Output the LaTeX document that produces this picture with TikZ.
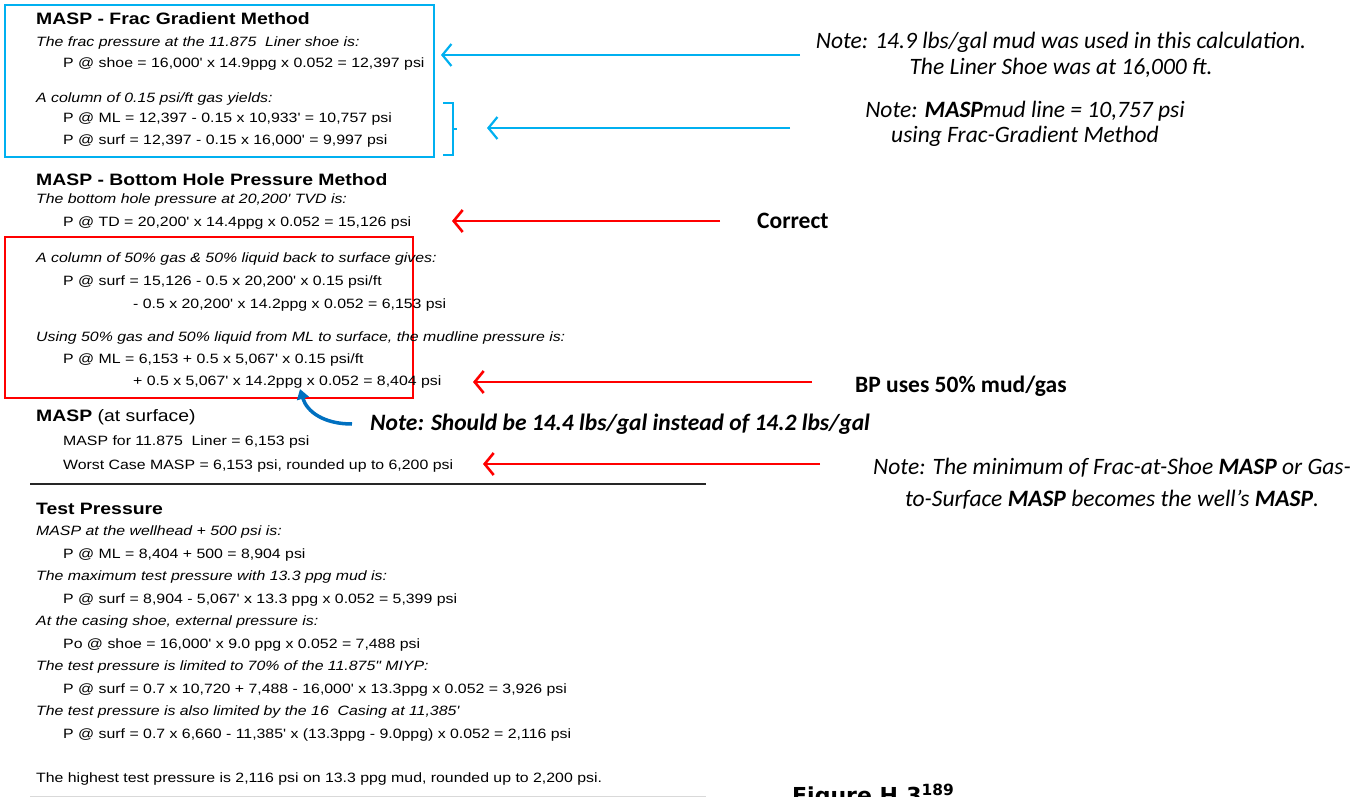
\documentclass[tikz,border=0pt]{standalone}
\usepackage{fontspec}
\usetikzlibrary{arrows.meta}
\setmainfont{Liberation Sans}
\newfontfamily\scan[FakeStretch=1.175]{Liberation Sans}
\newfontfamily\notef{Carlito}
\newfontfamily\figf{DejaVu Sans}
\definecolor{cyanb}{RGB}{0,176,240}
\definecolor{darkb}{RGB}{0,112,192}
\definecolor{redc}{RGB}{255,0,0}
\tikzset{
  hd/.style={anchor=base west, inner sep=0pt, font=\scan\bfseries\fontsize{16.5}{18}\selectfont},
  itl/.style={anchor=base west, inner sep=0pt, font=\scan\itshape\fontsize{13.5}{15}\selectfont},
  ln/.style={anchor=base west, inner sep=0pt, font=\scan\fontsize{13.5}{15}\selectfont},
  note/.style={inner sep=0pt, align=center, font=\notef\itshape\fontsize{23.5}{25.5}\selectfont},
  lab/.style={inner sep=0pt, anchor=west, font=\notef\bfseries\fontsize{23.5}{26}\selectfont},
  barrow/.style={cyanb, line width=2.2pt, -{Straight Barb[length=9pt,width=22pt]}},
  rarrow/.style={redc, line width=2.6pt, -{Straight Barb[length=9pt,width=22pt]}},
  frame/.style={line width=2.2pt}
}
\begin{document}
\begin{tikzpicture}[x=1pt,y=-1pt]
\useasboundingbox (0,0) rectangle (1370,797);
% ---- Frac gradient block
\draw[frame, cyanb] (5,5) rectangle (434,157);
\node[hd] (h1) at (36,25) {MASP - Frac Gradient Method};
\node[itl] (t1) at (36,47) {The frac pressure at the 11.875\ \ Liner shoe is:};
\node[ln] (l1) at (63,68) {P @ shoe = 16,000' x 14.9ppg x 0.052 = 12,397 psi};
\node[itl] (t2) at (36,103) {A column of 0.15 psi/ft gas yields:};
\node[ln] (l2) at (63,123) {P @ ML = 12,397 - 0.15 x 10,933' = 10,757 psi};
\node[ln] (l3) at (63,145) {P @ surf = 12,397 - 0.15 x 16,000' = 9,997 psi};
\draw[cyanb, line width=2pt] (443,103) -- (453,103) -- (453,155) -- (443,155);
\draw[cyanb, line width=2pt] (453,129) -- (457,129);
% ---- Bottom hole block
\node[hd] (h2) at (36,185) {MASP - Bottom Hole Pressure Method};
\node[itl] (t3) at (36,203) {The bottom hole pressure at 20,200' TVD is:};
\node[ln] (l4) at (63,226) {P @ TD = 20,200' x 14.4ppg x 0.052 = 15,126 psi};
\draw[frame, redc] (5,237) rectangle (413,398);
\node[itl] (t4) at (36,262) {A column of 50\% gas \& 50\% liquid back to surface gives:};
\node[ln] (l5) at (63,285) {P @ surf = 15,126 - 0.5 x 20,200' x 0.15 psi/ft};
\node[ln] (l6) at (133,308) {- 0.5 x 20,200' x 14.2ppg x 0.052 = 6,153 psi};
\node[itl] (t5) at (36,341) {Using 50\% gas and 50\% liquid from ML to surface, the mudline pressure is:};
\node[ln] (l7) at (63,363) {P @ ML = 6,153 + 0.5 x 5,067' x 0.15 psi/ft};
\node[ln] (l8) at (133,385) {+ 0.5 x 5,067' x 14.2ppg x 0.052 = 8,404 psi};
% ---- MASP at surface
\node[hd] (h3) at (36,421) {MASP {\mdseries(at surface)}};
\node[ln] (l9) at (63,445) {MASP for 11.875\ \ Liner = 6,153 psi};
\node[ln] (l10) at (63,469) {Worst Case MASP = 6,153 psi, rounded up to 6,200 psi};
\draw[line width=2.6pt, black!85] (30,484) -- (706,484);
% ---- Test pressure
\node[hd] (h4) at (36,514) {Test Pressure};
\node[itl] (t6) at (36,535) {MASP at the wellhead + 500 psi is:};
\node[ln] (l11) at (63,558) {P @ ML = 8,404 + 500 = 8,904 psi};
\node[itl] (t7) at (36,580) {The maximum test pressure with 13.3 ppg mud is:};
\node[ln] (l12) at (63,603) {P @ surf = 8,904 - 5,067' x 13.3 ppg x 0.052 = 5,399 psi};
\node[itl] (t8) at (36,625) {At the casing shoe, external pressure is:};
\node[ln] (l13) at (63,648) {Po @ shoe = 16,000' x 9.0 ppg x 0.052 = 7,488 psi};
\node[itl] (t9) at (36,670) {The test pressure is limited to 70\% of the 11.875" MIYP:};
\node[ln] (l14) at (63,693) {P @ surf = 0.7 x 10,720 + 7,488 - 16,000' x 13.3ppg x 0.052 = 3,926 psi};
\node[itl] (t10) at (36,715) {The test pressure is also limited by the 16\ \ Casing at 11,385'};
\node[ln] (l15) at (63,738) {P @ surf = 0.7 x 6,660 - 11,385' x (13.3ppg - 9.0ppg) x 0.052 = 2,116 psi};
\node[ln] (l16) at (36,782) {The highest test pressure is 2,116 psi on 13.3 ppg mud, rounded up to 2,200 psi.};
\draw[line width=1pt, black!15] (30,796) -- (706,796);
\node[anchor=base west, inner sep=0pt, font=\figf\bfseries\fontsize{22}{26}\selectfont] (fig) at (792,803) {Figure H.3\textsuperscript{189}};
% ---- Notes and arrows
\node[note] (n1) at (1061,55) {Note: 14.9 lbs/gal mud was used in this calculation.\\The Liner Shoe was at 16,000 ft.};
\node[note] (n2) at (1025,124) {Note: \textbf{MASP}mud line = 10,757 psi\\using Frac-Gradient Method};
\node[lab] (c1) at (757,221) {Correct};
\node[lab] (c2) at (855,386) {BP uses 50\% mud/gas};
\node[inner sep=0pt, anchor=west, font=\notef\bfseries\itshape\fontsize{23.5}{26}\selectfont] (n4) at (370,424) {Note: Should be 14.4 lbs/gal instead of 14.2 lbs/gal};
\node[note, font=\notef\itshape\fontsize{23.5}{32}\selectfont] (n3) at (1112,484) {Note: The minimum of Frac-at-Shoe \textbf{MASP} or Gas-\\to-Surface \textbf{MASP} becomes the well’s \textbf{MASP}.};
\coordinate (a1s) at (800,55);  \coordinate (a1e) at (441,55);
\coordinate (a2s) at (790,128); \coordinate (a2e) at (487,128);
\coordinate (a3s) at (720,221); \coordinate (a3e) at (452,221);
\coordinate (a4s) at (812,382); \coordinate (a4e) at (473,382);
\coordinate (a5s) at (820,464); \coordinate (a5e) at (483,464);
\coordinate (a6s) at (352,424); \coordinate (a6e) at (300,389);
\draw[barrow] (a1s) -- (a1e);
\draw[barrow] (a2s) -- (a2e);
\draw[rarrow] (a3s) -- (a3e);
\draw[rarrow] (a4s) -- (a4e);
\draw[rarrow] (a5s) -- (a5e);
\draw[darkb, line width=3.5pt, -{Triangle[length=10pt,width=12pt]}] (a6s) .. controls (324,424) and (307,412) .. (a6e);
\end{tikzpicture}
\end{document}
